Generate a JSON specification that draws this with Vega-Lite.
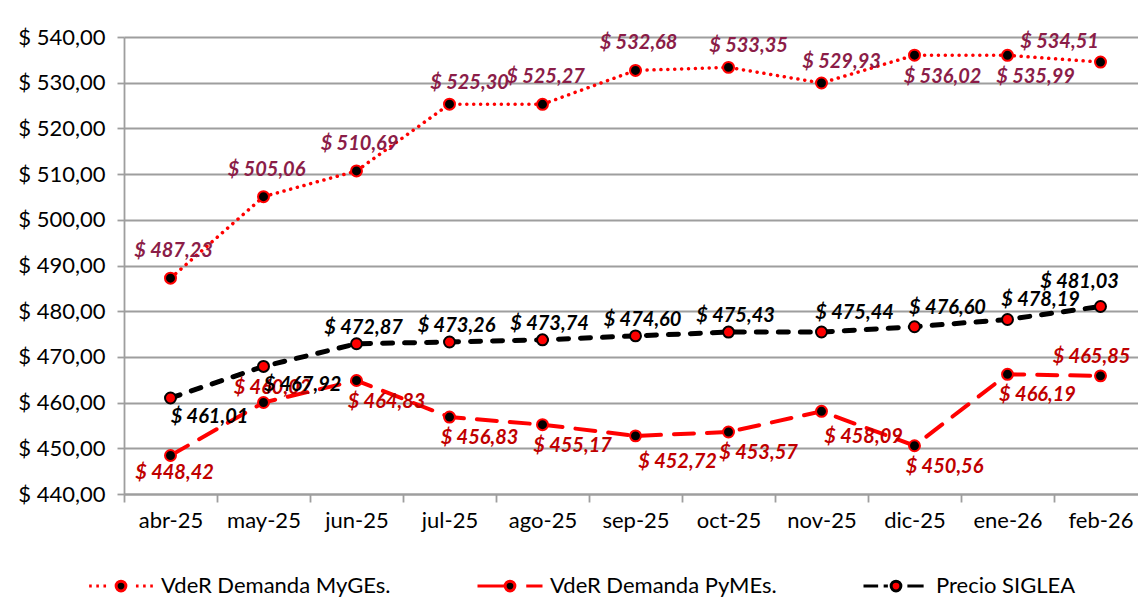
{
  "$schema": "https://vega.github.io/schema/vega-lite/v6.json",
  "width": 1014,
  "height": 457,
  "autosize": {"type": "none"},
  "padding": {"left": 124, "top": 37, "right": 0, "bottom": 113},
  "background": "white",
  "config": {
    "locale": {"number": {"decimal": ",", "thousands": ".", "grouping": [3], "currency": ["$ ", ""]}},
    "view": {"stroke": null},
    "font": "Lato",
    "axis": {"labelFont": "Lato", "labelFontSize": 22, "labelColor": "#000000", "domainColor": "#9e9e9e", "domainWidth": 1.8, "tickColor": "#9e9e9e", "tickWidth": 1.8, "gridColor": "#9e9e9e", "gridWidth": 1.8}
  },
  "data": {
    "values": [
      {"mes": "abr-25", "serie": "VdeR Demanda MyGEs.", "valor": 487.23},
      {"mes": "may-25", "serie": "VdeR Demanda MyGEs.", "valor": 505.06},
      {"mes": "jun-25", "serie": "VdeR Demanda MyGEs.", "valor": 510.69},
      {"mes": "jul-25", "serie": "VdeR Demanda MyGEs.", "valor": 525.30},
      {"mes": "ago-25", "serie": "VdeR Demanda MyGEs.", "valor": 525.27},
      {"mes": "sep-25", "serie": "VdeR Demanda MyGEs.", "valor": 532.68},
      {"mes": "oct-25", "serie": "VdeR Demanda MyGEs.", "valor": 533.35},
      {"mes": "nov-25", "serie": "VdeR Demanda MyGEs.", "valor": 529.93},
      {"mes": "dic-25", "serie": "VdeR Demanda MyGEs.", "valor": 536.02},
      {"mes": "ene-26", "serie": "VdeR Demanda MyGEs.", "valor": 535.99},
      {"mes": "feb-26", "serie": "VdeR Demanda MyGEs.", "valor": 534.51},
      {"mes": "abr-25", "serie": "VdeR Demanda PyMEs.", "valor": 448.42},
      {"mes": "may-25", "serie": "VdeR Demanda PyMEs.", "valor": 460.02},
      {"mes": "jun-25", "serie": "VdeR Demanda PyMEs.", "valor": 464.83},
      {"mes": "jul-25", "serie": "VdeR Demanda PyMEs.", "valor": 456.83},
      {"mes": "ago-25", "serie": "VdeR Demanda PyMEs.", "valor": 455.17},
      {"mes": "sep-25", "serie": "VdeR Demanda PyMEs.", "valor": 452.72},
      {"mes": "oct-25", "serie": "VdeR Demanda PyMEs.", "valor": 453.57},
      {"mes": "nov-25", "serie": "VdeR Demanda PyMEs.", "valor": 458.09},
      {"mes": "dic-25", "serie": "VdeR Demanda PyMEs.", "valor": 450.56},
      {"mes": "ene-26", "serie": "VdeR Demanda PyMEs.", "valor": 466.19},
      {"mes": "feb-26", "serie": "VdeR Demanda PyMEs.", "valor": 465.85},
      {"mes": "abr-25", "serie": "Precio SIGLEA", "valor": 461.01},
      {"mes": "may-25", "serie": "Precio SIGLEA", "valor": 467.92},
      {"mes": "jun-25", "serie": "Precio SIGLEA", "valor": 472.87},
      {"mes": "jul-25", "serie": "Precio SIGLEA", "valor": 473.26},
      {"mes": "ago-25", "serie": "Precio SIGLEA", "valor": 473.74},
      {"mes": "sep-25", "serie": "Precio SIGLEA", "valor": 474.60},
      {"mes": "oct-25", "serie": "Precio SIGLEA", "valor": 475.43},
      {"mes": "nov-25", "serie": "Precio SIGLEA", "valor": 475.44},
      {"mes": "dic-25", "serie": "Precio SIGLEA", "valor": 476.60},
      {"mes": "ene-26", "serie": "Precio SIGLEA", "valor": 478.19},
      {"mes": "feb-26", "serie": "Precio SIGLEA", "valor": 481.03}
    ]
  },
  "encoding": {
    "x": {
      "field": "mes", "type": "ordinal", "sort": null, "bandPosition": 0.5,
      "scale": {"type": "band", "paddingInner": 0, "paddingOuter": 0, "range": [0, 1023],
        "domain": ["abr-25", "may-25", "jun-25", "jul-25", "ago-25", "sep-25", "oct-25", "nov-25", "dic-25", "ene-26", "feb-26"]},
      "axis": {"title": null, "tickBand": "extent", "grid": false, "tickSize": 8, "labelPadding": 8, "labelAngle": 0}
    },
    "y": {
      "field": "valor", "type": "quantitative",
      "scale": {"domain": [440, 540], "nice": false, "zero": false},
      "axis": {"title": null, "values": [440, 450, 460, 470, 480, 490, 500, 510, 520, 530, 540], "format": "$.2f", "tickSize": 7, "labelPadding": 12, "grid": true}
    }
  },
  "layer": [
    {"transform": [{"filter": "datum.serie === 'VdeR Demanda MyGEs.'"}],
     "mark": {"type": "line", "color": "#FF0000", "strokeWidth": 3.5, "strokeDash": [0.1, 6.8], "strokeCap": "round"}},
    {"transform": [{"filter": "datum.serie === 'VdeR Demanda MyGEs.'"}],
     "mark": {"type": "point", "shape": "circle", "filled": true, "fill": "#000000", "stroke": "#FF0000", "strokeWidth": 2, "size": 120, "opacity": 1}},
    {"transform": [{"filter": "datum.serie === 'VdeR Demanda PyMEs.'"}],
     "mark": {"type": "line", "color": "#FF0000", "strokeWidth": 4, "strokeDash": [20, 13], "strokeCap": "round"}},
    {"transform": [{"filter": "datum.serie === 'VdeR Demanda PyMEs.'"}],
     "mark": {"type": "point", "shape": "circle", "filled": true, "fill": "#000000", "stroke": "#FF0000", "strokeWidth": 2, "size": 120, "opacity": 1}},
    {"transform": [{"filter": "datum.serie === 'Precio SIGLEA'"}],
     "mark": {"type": "line", "color": "#000000", "strokeWidth": 5, "strokeDash": [10, 12], "strokeCap": "round"}},
    {"transform": [{"filter": "datum.serie === 'Precio SIGLEA'"}],
     "mark": {"type": "point", "shape": "circle", "filled": true, "fill": "#FF0000", "stroke": "#000000", "strokeWidth": 2, "size": 120, "opacity": 1}},
    {"transform": [{"filter": "false"}],
     "mark": {"type": "point", "filled": true, "opacity": 1, "strokeWidth": 3},
     "encoding": {
       "fill": {"field": "serie", "type": "nominal",
         "scale": {"domain": ["VdeR Demanda MyGEs.", "VdeR Demanda PyMEs.", "Precio SIGLEA"], "range": ["#000000", "#000000", "#FF0000"]},
         "legend": {"title": null, "orient": "none", "legendX": -37, "legendY": 515, "direction": "horizontal", "symbolSize": 4225, "symbolStrokeWidth": 3, "labelFont": "Lato", "labelFontSize": 22, "labelColor": "#000000", "labelOffset": 6, "labelLimit": 500, "columnPadding": 80, "padding": 0}},
       "stroke": {"field": "serie", "type": "nominal",
         "scale": {"domain": ["VdeR Demanda MyGEs.", "VdeR Demanda PyMEs.", "Precio SIGLEA"], "range": ["#FF0000", "#FF0000", "#000000"]},
         "legend": {"title": null, "orient": "none", "legendX": -37, "legendY": 515, "direction": "horizontal", "symbolSize": 4225, "symbolStrokeWidth": 3, "labelFont": "Lato", "labelFontSize": 22, "labelColor": "#000000", "labelOffset": 6, "labelLimit": 500, "columnPadding": 80, "padding": 0}},
       "shape": {"field": "serie", "type": "nominal",
         "scale": {"domain": ["VdeR Demanda MyGEs.", "VdeR Demanda PyMEs.", "Precio SIGLEA"],
           "range": [
             "M-0.98,0L-0.9,0M-0.76,0L-0.68,0M-0.54,0L-0.46,0M0.46,0L0.54,0M0.68,0L0.76,0M0.9,0L0.98,0M-0.15,0A0.15,0.15 0 1,1 0.15,0A0.15,0.15 0 1,1 -0.15,0Z",
             "M-1,0L-0.15,0M0.5,0L1,0M-0.15,0A0.15,0.15 0 1,1 0.15,0A0.15,0.15 0 1,1 -0.15,0Z",
             "M-1,0L-0.55,0M-0.38,0L-0.25,0M0.35,0L0.85,0M-0.15,0A0.15,0.15 0 1,1 0.15,0A0.15,0.15 0 1,1 -0.15,0Z"
           ]},
         "legend": {"title": null, "orient": "none", "legendX": -37, "legendY": 515, "direction": "horizontal", "symbolSize": 4225, "symbolStrokeWidth": 3, "labelFont": "Lato", "labelFontSize": 22, "labelColor": "#000000", "labelOffset": 6, "labelLimit": 500, "columnPadding": 80, "padding": 0}}
     }},
    {"transform": [{"filter": "datum.serie === 'VdeR Demanda MyGEs.' && indexof(['abr-25','may-25','jun-25','ago-25','sep-25'], datum.mes) >= 0"}],
     "mark": {"type": "text", "dx": 3, "dy": -27, "fontSize": 20, "fontWeight": "bold", "fontStyle": "italic", "color": "#8B1D48"},
     "encoding": {"text": {"field": "valor", "type": "quantitative", "format": "$.2f"}}},
    {"transform": [{"filter": "datum.serie === 'VdeR Demanda MyGEs.' && indexof(['jul-25','oct-25','nov-25'], datum.mes) >= 0"}],
     "mark": {"type": "text", "dx": 20, "dy": -21, "fontSize": 20, "fontWeight": "bold", "fontStyle": "italic", "color": "#8B1D48"},
     "encoding": {"text": {"field": "valor", "type": "quantitative", "format": "$.2f"}}},
    {"transform": [{"filter": "datum.serie === 'VdeR Demanda MyGEs.' && indexof(['dic-25','ene-26'], datum.mes) >= 0"}],
     "mark": {"type": "text", "dx": 28, "dy": 22, "fontSize": 20, "fontWeight": "bold", "fontStyle": "italic", "color": "#8B1D48"},
     "encoding": {"text": {"field": "valor", "type": "quantitative", "format": "$.2f"}}},
    {"transform": [{"filter": "datum.serie === 'VdeR Demanda MyGEs.' && datum.mes === 'feb-26'"}],
     "mark": {"type": "text", "dx": -41, "dy": -20, "fontSize": 20, "fontWeight": "bold", "fontStyle": "italic", "color": "#8B1D48"},
     "encoding": {"text": {"field": "valor", "type": "quantitative", "format": "$.2f"}}},
    {"transform": [{"filter": "datum.serie === 'VdeR Demanda PyMEs.' && datum.mes === 'abr-25'"}],
     "mark": {"type": "text", "dx": 4, "dy": 17, "fontSize": 20, "fontWeight": "bold", "fontStyle": "italic", "color": "#C00000"},
     "encoding": {"text": {"field": "valor", "type": "quantitative", "format": "$.2f"}}},
    {"transform": [{"filter": "datum.serie === 'VdeR Demanda PyMEs.' && datum.mes === 'may-25'"}],
     "mark": {"type": "text", "dx": 9, "dy": -15, "fontSize": 20, "fontWeight": "bold", "fontStyle": "italic", "color": "#C00000"},
     "encoding": {"text": {"field": "valor", "type": "quantitative", "format": "$.2f"}}},
    {"transform": [{"filter": "datum.serie === 'VdeR Demanda PyMEs.' && indexof(['jun-25','jul-25','ago-25','oct-25','dic-25','ene-26'], datum.mes) >= 0"}],
     "mark": {"type": "text", "dx": 30, "dy": 21, "fontSize": 20, "fontWeight": "bold", "fontStyle": "italic", "color": "#C00000"},
     "encoding": {"text": {"field": "valor", "type": "quantitative", "format": "$.2f"}}},
    {"transform": [{"filter": "datum.serie === 'VdeR Demanda PyMEs.' && indexof(['sep-25','nov-25'], datum.mes) >= 0"}],
     "mark": {"type": "text", "dx": 42, "dy": 26, "fontSize": 20, "fontWeight": "bold", "fontStyle": "italic", "color": "#C00000"},
     "encoding": {"text": {"field": "valor", "type": "quantitative", "format": "$.2f"}}},
    {"transform": [{"filter": "datum.serie === 'VdeR Demanda PyMEs.' && datum.mes === 'feb-26'"}],
     "mark": {"type": "text", "dx": -9, "dy": -19, "fontSize": 20, "fontWeight": "bold", "fontStyle": "italic", "color": "#C00000"},
     "encoding": {"text": {"field": "valor", "type": "quantitative", "format": "$.2f"}}},
    {"transform": [{"filter": "datum.serie === 'Precio SIGLEA' && indexof(['abr-25','may-25'], datum.mes) >= 0"}],
     "mark": {"type": "text", "dx": 39, "dy": 19, "fontSize": 20, "fontWeight": "bold", "fontStyle": "italic", "color": "#000000"},
     "encoding": {"text": {"field": "valor", "type": "quantitative", "format": "$.2f"}}},
    {"transform": [{"filter": "datum.serie === 'Precio SIGLEA' && indexof(['jun-25','jul-25','ago-25','sep-25','oct-25'], datum.mes) >= 0"}],
     "mark": {"type": "text", "dx": 7, "dy": -16, "fontSize": 20, "fontWeight": "bold", "fontStyle": "italic", "color": "#000000"},
     "encoding": {"text": {"field": "valor", "type": "quantitative", "format": "$.2f"}}},
    {"transform": [{"filter": "datum.serie === 'Precio SIGLEA' && indexof(['nov-25','dic-25','ene-26'], datum.mes) >= 0"}],
     "mark": {"type": "text", "dx": 33, "dy": -19, "fontSize": 20, "fontWeight": "bold", "fontStyle": "italic", "color": "#000000"},
     "encoding": {"text": {"field": "valor", "type": "quantitative", "format": "$.2f"}}},
    {"transform": [{"filter": "datum.serie === 'Precio SIGLEA' && datum.mes === 'feb-26'"}],
     "mark": {"type": "text", "dx": -21, "dy": -24, "fontSize": 20, "fontWeight": "bold", "fontStyle": "italic", "color": "#000000"},
     "encoding": {"text": {"field": "valor", "type": "quantitative", "format": "$.2f"}}}
  ]
}
